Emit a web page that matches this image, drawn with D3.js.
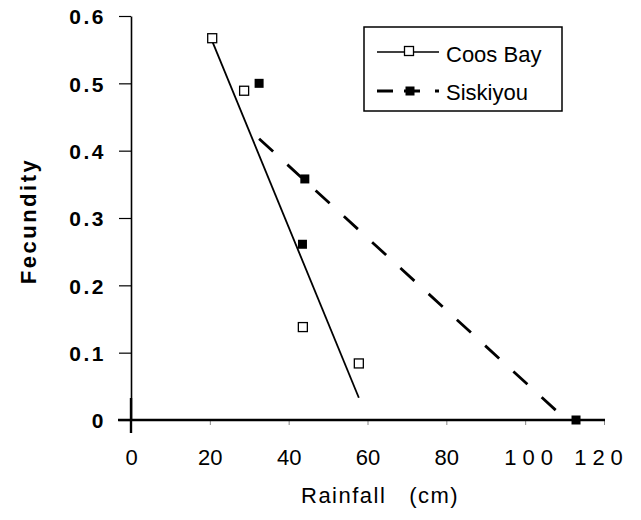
<!DOCTYPE html>
<html>
<head>
<meta charset="utf-8">
<script src="https://cdn.jsdelivr.net/npm/d3@7"></script>
<style>
body { margin: 0; background: #fff; }
svg { display: block; font-family: "Liberation Sans", Arial, sans-serif; }
.y-axis text { font-weight: bold; font-size: 21px; letter-spacing: 2.5px; fill: #000; }
.x-axis text { font-size: 22px; fill: #000; }
.x-axis .tick line { stroke: #888; }
</style>
</head>
<body>
<div class="chart"></div>
<script>
// data
const coosRain = [20.6, 28.7, 43.6, 57.8];
const coosFec = [0.567, 0.489, 0.138, 0.084];
const siskRain = [32.5, 44.1, 43.5, 112.9];
const siskFec = [0.500, 0.358, 0.261, 0];
const seriesNames = ['Coos Bay', 'Siskiyou'];
const xTicks = [0, 20, 40, 60, 80, 100, 120];
const yTicks = [0, 0.1, 0.2, 0.3, 0.4, 0.5, 0.6];

const margin = ({top: 16, right: 37, bottom: 100, left: 131});
const width = 641 - margin.left - margin.right;
const height = 520 - margin.top - margin.bottom;
const sq = 9;

// CHART INIT ----------------------------------------

const root = d3.select('.chart').append('svg')
	.attr('width', 641)
	.attr('height', 520);

const svg = root.append('g')
	.attr('transform', `translate(${margin.left},${margin.top})`);

const xScale = d3.scaleLinear().domain([0, 120]).range([0, width]);
const yScale = d3.scaleLinear().domain([0, 0.6]).range([height, 0]);

root.append('defs').append('clipPath')
	.attr('id', 'plot-clip')
	.append('rect')
	.attr('x', 0).attr('y', -20)
	.attr('width', width).attr('height', height + 20);

// y axis
const yAxis = d3.axisLeft(yScale)
	.tickValues(yTicks)
	.tickFormat(d => d === 0 ? '0' : d3.format('.1f')(d))
	.tickSize(12)
	.tickSizeOuter(0)
	.tickPadding(13);

svg.append('g')
	.attr('class', 'axis y-axis')
	.call(yAxis)
	.call(g => g.select('.domain').attr('stroke', '#000').attr('stroke-width', 1.6))
	.call(g => g.selectAll('.tick line').attr('stroke', '#000').attr('stroke-width', 1.2))
	.call(g => g.selectAll('.tick text').attr('dy', '0.38em'));

// x axis
const xAxis = d3.axisBottom(xScale)
	.tickValues(xTicks)
	.tickSize(5)
	.tickSizeOuter(0)
	.tickPadding(24);

svg.append('g')
	.attr('class', 'axis x-axis')
	.attr('transform', `translate(0,${height})`)
	.call(xAxis)
	.call(g => g.select('.domain').remove())
	.call(g => g.selectAll('.tick text')
		.style('letter-spacing', d => d >= 100 ? '6px' : null)
		.attr('dx', d => d === 100 ? 6 : d === 120 ? -3 : 0));

// heavy x axis line, starting under the y tick
svg.append('line')
	.attr('x1', -13).attr('x2', width + 1)
	.attr('y1', yScale(0)).attr('y2', yScale(0))
	.attr('stroke', '#000').attr('stroke-width', 2.6);

// y axis runs a little below the x axis
svg.append('line')
	.attr('x1', xScale(0)).attr('x2', xScale(0))
	.attr('y1', yScale(0) - 22).attr('y2', yScale(0) + 13)
	.attr('stroke', '#000').attr('stroke-width', 2.4);

svg.append('text')
	.attr('transform', `translate(${36 - margin.left},${221 - margin.top}) rotate(-90)`)
	.attr('text-anchor', 'middle')
	.style('font-weight', 'bold')
	.style('font-size', '22px')
	.style('letter-spacing', '2.5px')
	.text('Fecundity');

svg.append('text')
	.attr('x', 301 - margin.left)
	.attr('y', 503 - margin.top)
	.style('font-size', '22px')
	.style('letter-spacing', '1.5px')
	.style('white-space', 'pre')
	.text('Rainfall   (cm)');

// TREND LINES ---------------------------------------

function fit(xs, ys) {
	const mx = d3.mean(xs), my = d3.mean(ys);
	const sxy = d3.sum(xs, (x, i) => (x - mx) * (ys[i] - my));
	const sxx = d3.sum(xs, x => (x - mx) * (x - mx));
	const b = sxy / sxx;
	return x => my + b * (x - mx);
}

const line = d3.line()
	.x(d => xScale(d[0]))
	.y(d => yScale(d[1]));

function trend(xs, ys) {
	const f = fit(xs, ys);
	const ext = d3.extent(xs);
	return ext.map(x => [x, f(x)]);
}

const plot = svg.append('g').attr('clip-path', 'url(#plot-clip)');

plot.append('path')
	.datum(trend(coosRain, coosFec))
	.attr('d', line)
	.attr('fill', 'none')
	.attr('stroke', '#000')
	.attr('stroke-width', 1.8);

plot.append('path')
	.datum(trend(siskRain, siskFec))
	.attr('d', line)
	.attr('fill', 'none')
	.attr('stroke', '#000')
	.attr('stroke-width', 2.8)
	.attr('stroke-dasharray', '19,19.3');

// POINTS --------------------------------------------

svg.selectAll('.coos')
	.data(coosRain.map((x, i) => [x, coosFec[i]]))
	.enter()
	.append('rect')
	.attr('class', 'coos')
	.attr('x', d => xScale(d[0]) - sq / 2)
	.attr('y', d => yScale(d[1]) - sq / 2)
	.attr('width', sq)
	.attr('height', sq)
	.attr('fill', '#fff')
	.attr('stroke', '#000')
	.attr('stroke-width', 1.3);

svg.selectAll('.sisk')
	.data(siskRain.map((x, i) => [x, siskFec[i]]))
	.enter()
	.append('rect')
	.attr('class', 'sisk')
	.attr('x', d => xScale(d[0]) - sq / 2)
	.attr('y', d => yScale(d[1]) - sq / 2)
	.attr('width', sq)
	.attr('height', sq)
	.attr('fill', '#000');

// LEGEND --------------------------------------------

const legend = root.append('g');

legend.append('rect')
	.attr('x', 364).attr('y', 27)
	.attr('width', 198).attr('height', 84)
	.attr('fill', '#fff')
	.attr('stroke', '#000')
	.attr('stroke-width', 1.5);

legend.append('line')
	.attr('x1', 377).attr('x2', 439)
	.attr('y1', 52).attr('y2', 52)
	.attr('stroke', '#000').attr('stroke-width', 1.6);

legend.append('rect')
	.attr('x', 409 - sq / 2).attr('y', 51 - sq / 2)
	.attr('width', sq).attr('height', sq)
	.attr('fill', '#fff').attr('stroke', '#000').attr('stroke-width', 1.3);

legend.append('line')
	.attr('x1', 377).attr('x2', 439)
	.attr('y1', 91).attr('y2', 91)
	.attr('stroke', '#000').attr('stroke-width', 2.8)
	.attr('stroke-dasharray', '16,11,16,15,4');

legend.append('rect')
	.attr('x', 410 - sq / 2).attr('y', 91 - sq / 2)
	.attr('width', sq).attr('height', sq)
	.attr('fill', '#000');

legend.selectAll('.legend-text')
	.data(seriesNames)
	.enter()
	.append('text')
	.attr('class', 'legend-text')
	.attr('x', 446)
	.attr('y', (d, i) => i === 0 ? 62 : 100)
	.style('font-size', '22px')
	.text(d => d);
</script>
</body>
</html>
